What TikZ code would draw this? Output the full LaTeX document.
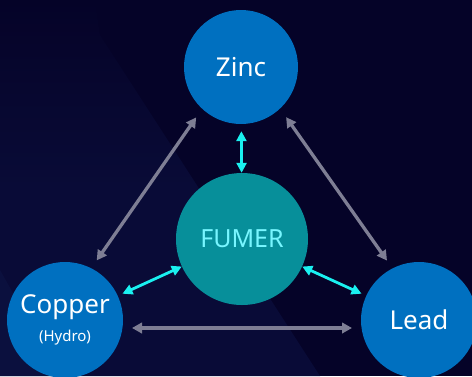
\documentclass[tikz,border=0pt]{standalone}
\usepackage{fontspec}
\setmainfont{Noto Sans}
\usetikzlibrary{arrows.meta,calc}

\definecolor{bgdark}{HTML}{050328}
\definecolor{bglight}{HTML}{090B37}
\definecolor{bgband}{HTML}{0E1545}
\definecolor{metalblue}{HTML}{0070C0}
\definecolor{fumerteal}{HTML}{078F9A}
\definecolor{fumertext}{HTML}{78F6FF}
\definecolor{linkcyan}{HTML}{1AF0F0}
\definecolor{linkgray}{HTML}{7E7E94}

\tikzset{
  metal/.style={circle, fill=metalblue, text=white, inner sep=0pt,
    minimum size=116pt, font=\fontsize{26}{30}\selectfont, align=center},
  fumerbox/.style={circle, fill=fumerteal, text=fumertext, inner sep=0pt,
    minimum size=132pt, font=\fontsize{25}{30}\selectfont},
  graylink/.style={line width=3.3pt, draw=linkgray,
    {Triangle[length=10pt,width=10.5pt]}-{Triangle[length=10pt,width=10.5pt]},
    shorten <=67pt, shorten >=67pt},
  cyanlink/.style={line width=2.8pt, draw=linkcyan,
    {Triangle[length=10pt,width=10pt]}-{Triangle[length=10pt,width=10pt]}},
}

\begin{document}
\begin{tikzpicture}[x=1pt,y=-1pt]
  % backdrop: dark navy with a softly lit diagonal panel on the left
  \fill[bgdark] (0,0) rectangle (472,376);
  \shade[top color=bgdark, bottom color=bglight, middle color=bglight]
    (0,0) -- (95,0) -- (100,35) -- (320,376) -- (0,376) -- cycle;
  \fill[bgband, opacity=0.5] (0,270) -- (60,376) -- (0,376) -- cycle;
  \useasboundingbox (0,0) rectangle (472,376);

  % nodes
  \node[metal, minimum size=114pt] (zinc) at (241,67) {Zinc};
  \node[fumerbox] (fumer) at (242,239) {FUMER};
  \node[metal] (copper) at (65,320)
    {Copper\\[-2pt]{\fontsize{15}{18}\selectfont (Hydro)}};
  \node[metal] (lead) at (419,320) {Lead};

  % outer triangle links
  \draw[graylink] ($(zinc)!8pt!-90:(copper)$) -- ($(copper)!8pt!90:(zinc)$);
  \draw[graylink] ($(copper)!8pt!-90:(lead)$) -- ($(lead)!8pt!90:(copper)$);
  \draw[graylink] ($(lead)!8pt!-90:(zinc)$) -- ($(zinc)!8pt!90:(lead)$);

  % links to the fumer
  \draw[cyanlink, shorten <=7pt] (zinc) -- (fumer);
  \draw[cyanlink, shorten <=5pt] (copper) -- (fumer);
  \draw[cyanlink, shorten <=5pt] (lead) -- (fumer);
\end{tikzpicture}
\end{document}
